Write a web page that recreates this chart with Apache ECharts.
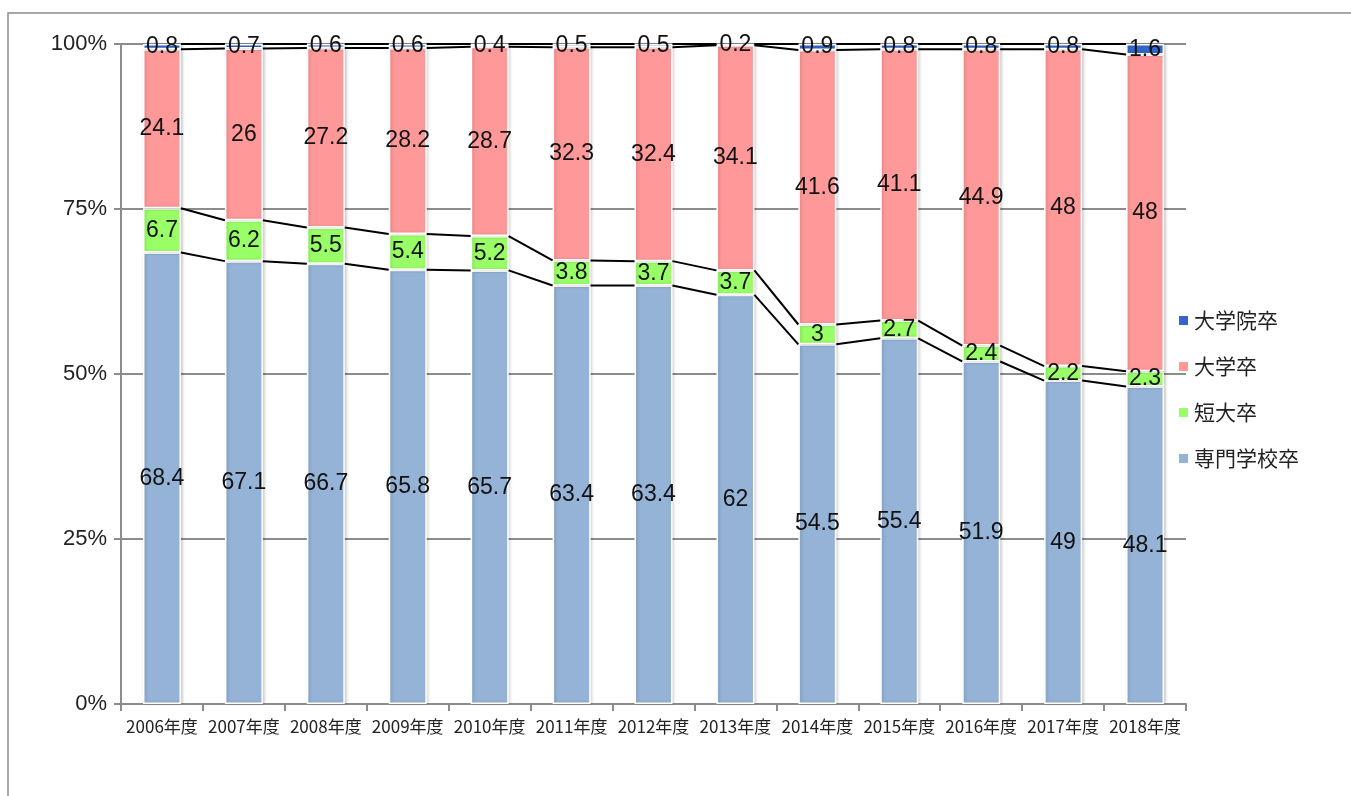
<!DOCTYPE html>
<html>
<head>
<meta charset="utf-8">
<script src="https://cdn.jsdelivr.net/npm/echarts@6/dist/echarts.min.js"></script>
<style>
  html, body { margin: 0; padding: 0; background: #fff; }
  #chart { width: 1351px; height: 796px; }
</style>
</head>
<body>
<div id="chart"></div>
<script>
// 年度
var years = ['2006年度', '2007年度', '2008年度', '2009年度', '2010年度', '2011年度', '2012年度',
    '2013年度', '2014年度', '2015年度', '2016年度', '2017年度', '2018年度'];

// 下から積み上げる順
var senmon = [68.4, 67.1, 66.7, 65.8, 65.7, 63.4, 63.4, 62, 54.5, 55.4, 51.9, 49, 48.1];
var tandai = [6.7, 6.2, 5.5, 5.4, 5.2, 3.8, 3.7, 3.7, 3, 2.7, 2.4, 2.2, 2.3];
var daigaku = [24.1, 26, 27.2, 28.2, 28.7, 32.3, 32.4, 34.1, 41.6, 41.1, 44.9, 48, 48];
var daigakuin = [0.8, 0.7, 0.6, 0.6, 0.4, 0.5, 0.5, 0.2, 0.9, 0.8, 0.8, 0.8, 1.6];

var yTicks = [0, 25, 50, 75, 100];

var BAR_W = 38;
var labelFont = "'Liberation Sans Narrow', 'Liberation Sans', sans-serif";
var cjkFont = "'Liberation Sans Narrow', 'Noto Sans CJK JP', sans-serif";

// 区分線（Excel の系列線）用に累計を出す
var cum1 = [], cum2 = [], cum3 = [], cum4 = [];
for (var i = 0; i < years.length; i++) {
    cum1.push(senmon[i]);
    cum2.push(senmon[i] + tandai[i]);
    cum3.push(senmon[i] + tandai[i] + daigaku[i]);
    cum4.push(senmon[i] + tandai[i] + daigaku[i] + daigakuin[i]);
}
var lineData = [];
for (var j = 0; j < years.length - 1; j++) {
    lineData.push([j, cum1[j], cum1[j + 1], cum2[j], cum2[j + 1], cum3[j], cum3[j + 1], cum4[j], cum4[j + 1]]);
}

var chart = echarts.init(document.getElementById('chart'));

function barSeries(name, data, color) {
    return {
        name: name,
        type: 'bar',
        stack: 'total',
        barWidth: BAR_W,
        data: data,
        itemStyle: {
            color: color,
            borderColor: '#ffffff',
            borderWidth: 1.5,
            shadowColor: 'rgba(0,0,0,0.18)',
            shadowBlur: 3,
            shadowOffsetX: 1.5
        },
        label: {
            show: true,
            position: 'inside',
            color: '#111',
            fontFamily: labelFont,
            fontSize: 23
        }
    };
}

var option = {
    animation: false,
    backgroundColor: '#fff',
    graphic: [{
        type: 'rect',
        shape: { x: 8, y: 13, width: 1400, height: 820 },
        style: { fill: 'none', stroke: '#8c8c8c', lineWidth: 1.5 },
        silent: true
    }],
    grid: { left: 121, right: 165, top: 44, bottom: 92 },
    legend: {
        orient: 'vertical',
        left: 1172,
        top: 305,
        itemWidth: 11,
        itemHeight: 11,
        itemGap: 25,
        icon: 'rect',
        textStyle: { fontFamily: "'Noto Sans CJK JP', sans-serif", fontSize: 21, color: '#222' },
        data: ['大学院卒', '大学卒', '短大卒', '専門学校卒']
    },
    xAxis: {
        type: 'category',
        data: years,
        axisLine: { lineStyle: { color: '#8c8c8c', width: 2 } },
        axisTick: { show: true, length: 7, lineStyle: { color: '#8c8c8c', width: 2 } },
        axisLabel: { fontFamily: cjkFont, fontSize: 17, color: '#222', margin: 14, interval: 0 }
    },
    yAxis: {
        type: 'value',
        min: yTicks[0],
        max: yTicks[yTicks.length - 1],
        interval: 25,
        axisLine: { show: true, lineStyle: { color: '#8c8c8c', width: 2 } },
        axisTick: { show: true, length: 7, lineStyle: { color: '#8c8c8c', width: 2 } },
        splitLine: { lineStyle: { color: '#8c8c8c', width: 2 } },
        axisLabel: { formatter: '{value}%', fontFamily: labelFont, fontSize: 22, color: '#222', margin: 14 }
    },
    series: [
        barSeries('専門学校卒', senmon, '#95b3d7'),
        barSeries('短大卒', tandai, '#99ff66'),
        barSeries('大学卒', daigaku, '#ff9999'),
        barSeries('大学院卒', daigakuin, '#3366cc'),
        {
            type: 'custom',
            name: 'series-lines',
            silent: true,
            z: 3,
            data: lineData,
            encode: { x: 0, y: 1 },
            renderItem: function (params, api) {
                var idx = api.value(0);
                var children = [];
                for (var k = 0; k < 4; k++) {
                    var a = api.coord([idx, api.value(1 + k * 2)]);
                    var b = api.coord([idx + 1, api.value(2 + k * 2)]);
                    children.push({
                        type: 'line',
                        shape: { x1: a[0] + BAR_W / 2, y1: a[1], x2: b[0] - BAR_W / 2, y2: b[1] },
                        style: { stroke: '#000', lineWidth: 2 }
                    });
                }
                return { type: 'group', children: children };
            }
        }
    ]
};

chart.setOption(option);
</script>
</body>
</html>
